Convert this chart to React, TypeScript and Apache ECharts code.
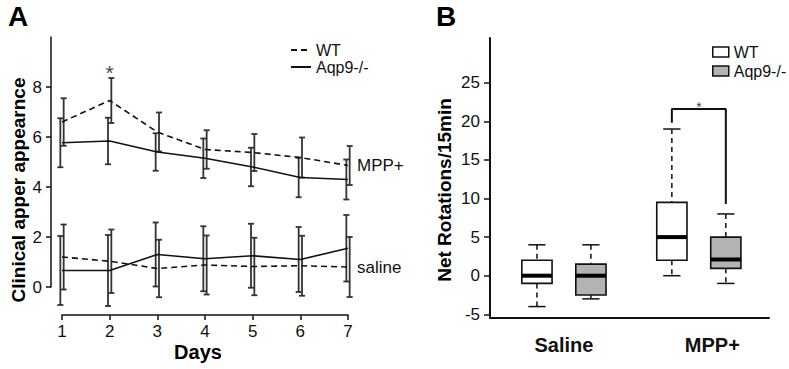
import React, { useEffect, useRef } from "react";
import * as echarts from "echarts";

const FONT = "'Liberation Sans', Arial, Helvetica, sans-serif";

// Panel A data
const days = [1, 2, 3, 4, 5, 6, 7];
const mppWT = [6.6, 7.46, 6.2, 5.5, 5.38, 5.18, 4.86];
const mppWTErr = [0.95, 0.9, 0.78, 0.77, 0.74, 0.8, 0.78];
const mppKO = [5.77, 5.84, 5.4, 5.15, 4.8, 4.38, 4.3];
const mppKOErr = [0.98, 0.93, 0.75, 0.79, 0.77, 0.79, 0.8];
const salWT = [1.2, 1.03, 0.74, 0.88, 0.82, 0.85, 0.8];
const salWTErr = [1.3, 1.27, 1.15, 1.18, 1.15, 1.2, 1.2];
const salKO = [0.66, 0.66, 1.3, 1.13, 1.25, 1.1, 1.55];
const salKOErr = [1.38, 1.42, 1.28, 1.3, 1.28, 1.3, 1.33];
const yTicksA = [0, 2, 4, 6, 8];
const starA = [2, 8.6];

// Panel B data (boxplot stats: low, q1, median, q3, high)
const boxCategories = ["Saline", "MPP+"];
const boxLabelPos = [1.5, 4.25];
const wtPos = [1, 3.5];
const koPos = [2, 4.5];
const wtStats = [
  [-4, -1, 0, 2, 4],
  [0, 2, 5, 9.5, 19],
];
const koStats = [
  [-3, -2.5, 0, 1.5, 4],
  [-1, 0.95, 2.1, 5, 8],
];
const yTicksB = [-5, 0, 5, 10, 15, 20, 25];
const bracket = [
  [3.5, 19.8],
  [3.5, 21.6],
  [4.5, 21.6],
  [4.5, 9.3],
];
const starB = [4, 21.8];

const INK = "#111";
const BAR = "#333";

function errRender(params: any, api: any) {
  const x = api.value(0);
  const m = api.value(1);
  const e = api.value(2);
  const t = api.coord([x, m + e]);
  const b = api.coord([x, m - e]);
  const hw = 3;
  const st = { stroke: BAR, lineWidth: 1.8 };
  return {
    type: "group",
    children: [
      { type: "line", shape: { x1: t[0], y1: t[1], x2: b[0], y2: b[1] }, style: st },
      { type: "line", shape: { x1: t[0] - hw, y1: t[1], x2: t[0] + hw, y2: t[1] }, style: st },
      { type: "line", shape: { x1: b[0] - hw, y1: b[1], x2: b[0] + hw, y2: b[1] }, style: st },
    ],
  };
}

function boxRender(fill: string) {
  return (params: any, api: any) => {
    const x = api.value(0);
    const lo = api.value(1);
    const q1 = api.value(2);
    const med = api.value(3);
    const q3 = api.value(4);
    const hi = api.value(5);
    const pHi = api.coord([x, hi]);
    const pQ3 = api.coord([x, q3]);
    const pMed = api.coord([x, med]);
    const pQ1 = api.coord([x, q1]);
    const pLo = api.coord([x, lo]);
    const left = api.coord([x - 0.28, 0])[0];
    const right = api.coord([x + 0.28, 0])[0];
    const cl = api.coord([x - 0.16, 0])[0];
    const cr = api.coord([x + 0.16, 0])[0];
    const dash = { stroke: INK, lineWidth: 1.5, lineDash: [5, 4] };
    const solid = { stroke: INK, lineWidth: 1.5 };
    return {
      type: "group",
      children: [
        { type: "line", shape: { x1: pHi[0], y1: pHi[1], x2: pQ3[0], y2: pQ3[1] }, style: dash },
        { type: "line", shape: { x1: pQ1[0], y1: pQ1[1], x2: pLo[0], y2: pLo[1] }, style: dash },
        { type: "line", shape: { x1: cl, y1: pHi[1], x2: cr, y2: pHi[1] }, style: solid },
        { type: "line", shape: { x1: cl, y1: pLo[1], x2: cr, y2: pLo[1] }, style: solid },
        {
          type: "rect",
          shape: { x: left, y: pQ3[1], width: right - left, height: pQ1[1] - pQ3[1] },
          style: { fill, stroke: INK, lineWidth: 1.6 },
        },
        { type: "line", shape: { x1: left, y1: pMed[1], x2: right, y2: pMed[1] }, style: { stroke: "#000", lineWidth: 4 } },
      ],
    };
  };
}

export default function App() {
  const ref = useRef<HTMLDivElement>(null);
  useEffect(() => {
    if (!ref.current) return;
    const chart = echarts.init(ref.current, undefined, { renderer: "svg" });
    const pts = (ys: number[]) => days.map((d, i) => [d, ys[i]]);
    const errs = (ys: number[], es: number[], off: number) => days.map((d, i) => [d + off, ys[i], es[i]]);
    const lineBase = (name: string, data: number[][], dashed: boolean, label?: string) => ({
      type: "line",
      name,
      xAxisIndex: 0,
      yAxisIndex: 0,
      data,
      symbol: "none",
      z: 3,
      lineStyle: { color: INK, width: 1.6, type: dashed ? [6, 4] : "solid" },
      itemStyle: { color: INK },
      endLabel: label
        ? { show: true, formatter: label, distance: 9, fontSize: 17, fontFamily: FONT, color: INK }
        : { show: false },
    });
    const tickLabelStyle = { fontSize: 17, fontFamily: FONT, color: INK };
    const option: any = {
      animation: false,
      backgroundColor: "#fff",
      grid: [
        { left: 51, top: 37, width: 297, height: 278 },
        { left: 51, top: 37, width: 297, height: 250 },
        { left: 62, top: 314, width: 286, height: 1 },
        { left: 490, top: 38, width: 279, height: 280 },
      ],
      xAxis: [
        { gridIndex: 0, type: "value", min: 1 - 11 / (286 / 6), max: 7, show: false },
        { gridIndex: 1, type: "value", min: 0, max: 1, show: false },
        {
          gridIndex: 2,
          type: "value",
          min: 1,
          max: 7,
          interval: 1,
          axisLine: { show: true, lineStyle: { color: INK, width: 1.5 } },
          axisTick: { show: true, length: 5, lineStyle: { color: INK, width: 1.5 } },
          axisLabel: { ...tickLabelStyle, margin: 8 },
          splitLine: { show: false },
        },
        {
          gridIndex: 3,
          type: "value",
          min: 0.13,
          max: 5.3,
          axisLine: { show: true, onZero: false, lineStyle: { color: INK, width: 2 } },
          axisTick: { show: false },
          axisLabel: {
            customValues: boxLabelPos,
            formatter: (v: number) => (v < 3 ? boxCategories[0] : boxCategories[1]),
            fontSize: 20,
            fontWeight: "bold",
            fontFamily: FONT,
            color: INK,
            margin: 17,
          },
          splitLine: { show: false },
        },
      ],
      yAxis: [
        { gridIndex: 0, type: "value", min: 10 - 278 / 25, max: 10, show: false },
        {
          gridIndex: 1,
          type: "value",
          min: 0,
          max: 10,
          axisLine: { show: true, lineStyle: { color: INK, width: 1.5 } },
          axisTick: { show: true, length: 5, customValues: yTicksA, lineStyle: { color: INK, width: 1.5 } },
          axisLabel: { ...tickLabelStyle, margin: 9, customValues: yTicksA },
          splitLine: { show: false },
        },
        { gridIndex: 2, type: "value", min: 0, max: 1, show: false },
        {
          gridIndex: 3,
          type: "value",
          min: -5.48,
          max: 30.79,
          axisLine: { show: true, onZero: false, lineStyle: { color: INK, width: 2 } },
          axisTick: { show: true, length: 6, customValues: yTicksB, lineStyle: { color: INK, width: 1.5 } },
          axisLabel: { ...tickLabelStyle, margin: 10, customValues: yTicksB },
          splitLine: { show: false },
        },
      ],
      legend: [
        {
          data: ["WT", "Aqp9-/-"],
          orient: "vertical",
          left: 290,
          top: 42,
          padding: 0,
          itemGap: 1,
          itemWidth: 20,
          itemHeight: 10,
          selectedMode: false,
          itemStyle: { opacity: 0 },
          textStyle: { fontSize: 16, fontFamily: FONT, color: INK, lineHeight: 10 },
        },
        {
          data: [
            { name: "WT_B", icon: "rect", itemStyle: { color: "#fff", borderColor: INK, borderWidth: 1.5 } },
            { name: "Aqp9_B", icon: "rect", itemStyle: { color: "#b3b3b3", borderColor: INK, borderWidth: 1.5 } },
          ],
          formatter: (n: string) => (n === "WT_B" ? "WT" : "Aqp9-/-"),
          orient: "vertical",
          left: 712,
          top: 44,
          padding: 0,
          itemGap: 3,
          itemWidth: 16,
          itemHeight: 10,
          selectedMode: false,
          textStyle: { fontSize: 16, fontFamily: FONT, color: INK, lineHeight: 10 },
        },
      ],
      graphic: [
        { type: "text", left: 8, top: 2, style: { text: "A", fontSize: 28, fontWeight: "bold", fontFamily: FONT, fill: "#000" } },
        { type: "text", left: 436, top: 2, style: { text: "B", fontSize: 28, fontWeight: "bold", fontFamily: FONT, fill: "#000" } },
        {
          type: "text",
          x: 18,
          y: 190,
          rotation: Math.PI / 2,
          style: {
            text: "Clinical apper appearnce",
            fontSize: 19,
            fontWeight: "bold",
            fontFamily: FONT,
            fill: "#000",
            align: "center",
            verticalAlign: "middle",
          },
        },
        {
          type: "text",
          x: 198,
          y: 352,
          style: { text: "Days", fontSize: 20, fontWeight: "bold", fontFamily: FONT, fill: "#000", align: "center", verticalAlign: "middle" },
        },
        {
          type: "text",
          x: 444,
          y: 190,
          rotation: Math.PI / 2,
          style: {
            text: "Net Rotations/15min",
            fontSize: 19,
            fontWeight: "bold",
            fontFamily: FONT,
            fill: "#000",
            align: "center",
            verticalAlign: "middle",
          },
        },
      ],
      series: [
        lineBase("WT", pts(mppWT), true, "MPP+"),
        lineBase("Aqp9-/-", pts(mppKO), false),
        lineBase("WT", pts(salWT), true, "saline"),
        lineBase("Aqp9-/-", pts(salKO), false),
        {
          type: "custom",
          name: "errA",
          xAxisIndex: 0,
          yAxisIndex: 0,
          renderItem: errRender,
          encode: { x: 0, y: 1 },
          data: [
            ...errs(mppWT, mppWTErr, 0.035),
            ...errs(mppKO, mppKOErr, -0.035),
            ...errs(salWT, salWTErr, 0.035),
            ...errs(salKO, salKOErr, -0.035),
          ],
          z: 2,
        },
        {
          type: "scatter",
          name: "starA",
          xAxisIndex: 0,
          yAxisIndex: 0,
          symbolSize: 1,
          itemStyle: { color: "transparent" },
          data: [starA],
          label: { show: true, position: "inside", formatter: "*", fontSize: 21, fontFamily: FONT, color: INK },
        },
        {
          type: "custom",
          name: "WT_B",
          xAxisIndex: 3,
          yAxisIndex: 3,
          renderItem: boxRender("#ffffff"),
          encode: { x: 0, y: [1, 2, 3, 4, 5] },
          data: wtPos.map((p, i) => [p, ...wtStats[i]]),
        },
        {
          type: "custom",
          name: "Aqp9_B",
          xAxisIndex: 3,
          yAxisIndex: 3,
          renderItem: boxRender("#b3b3b3"),
          encode: { x: 0, y: [1, 2, 3, 4, 5] },
          data: koPos.map((p, i) => [p, ...koStats[i]]),
        },
        {
          type: "line",
          name: "bracket",
          xAxisIndex: 3,
          yAxisIndex: 3,
          data: bracket,
          symbol: "none",
          lineStyle: { color: INK, width: 2 },
        },
        {
          type: "scatter",
          name: "starB",
          xAxisIndex: 3,
          yAxisIndex: 3,
          symbolSize: 1,
          itemStyle: { color: "transparent" },
          data: [starB],
          label: { show: true, position: "inside", formatter: "*", fontSize: 14, fontFamily: FONT, color: INK },
        },
      ],
    };
    chart.setOption(option);
    return () => chart.dispose();
  }, []);
  return (
    <div
      ref={ref}
      style={{ position: "fixed", left: 0, top: 0, width: 789, height: 369, background: "#fff" }}
    />
  );
}
